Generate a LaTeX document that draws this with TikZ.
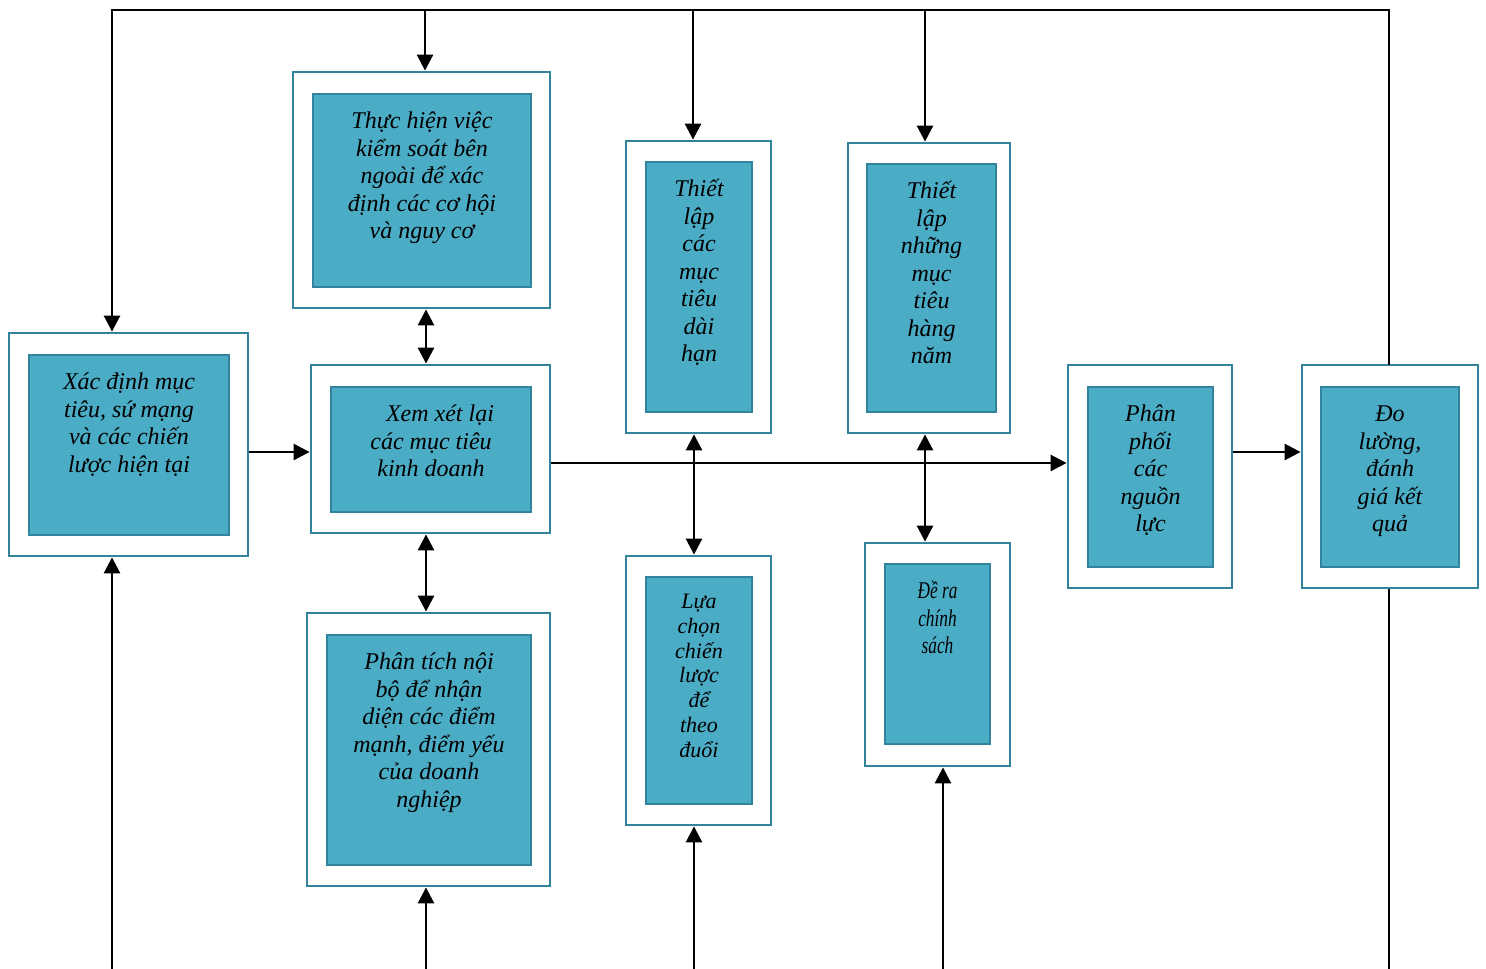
\documentclass[tikz,border=0pt]{standalone}
\usepackage{fontspec}
\usepackage{graphicx}
\setmainfont{Liberation Serif}
\usetikzlibrary{arrows.meta}
\definecolor{boxfill}{HTML}{4BACC6}
\definecolor{boxline}{HTML}{31849B}
\setlength{\tabcolsep}{0pt}
\newcommand\lbltext[1]{\begin{tabular}[t]{c}#1\end{tabular}}
\tikzset{
  outerbox/.style={draw=boxline, line width=2.8pt, fill=white, inner sep=0pt},
  innerbox/.style={draw=boxline, line width=2.3pt, fill=boxfill, inner sep=0pt},
  label/.style={anchor=base, inner sep=0pt,
    font=\fontsize{24}{27.5}\selectfont\itshape},
  smalllabel/.style={anchor=base, inner sep=0pt,
    font=\fontsize{22}{24.7}\selectfont\itshape},
  conn/.style={line width=2.7pt, black},
  arr/.style={conn, -{Triangle[length=16pt,width=16pt]}},
  darr/.style={conn, {Triangle[length=16pt,width=16pt]}-{Triangle[length=16pt,width=16pt]}},
}
\begin{document}
\begin{tikzpicture}[x=1pt, y=-1pt]
\useasboundingbox (0,0) rectangle (1486,969);

% outer boxes
\node[outerbox, minimum width=239pt, minimum height=223pt] (b1) at (128.5,444.5) {};
\node[outerbox, minimum width=257pt, minimum height=236pt] (b2) at (421.5,190) {};
\node[outerbox, minimum width=239pt, minimum height=168pt] (b3) at (430.5,449) {};
\node[outerbox, minimum width=243pt, minimum height=273pt] (b4) at (428.5,749.5) {};
\node[outerbox, minimum width=145pt, minimum height=292pt] (b5) at (698.5,287) {};
\node[outerbox, minimum width=145pt, minimum height=269pt] (b6) at (698.5,690.5) {};
\node[outerbox, minimum width=162pt, minimum height=290pt] (b7) at (929,288) {};
\node[outerbox, minimum width=145pt, minimum height=223pt] (b8) at (937.5,654.5) {};
\node[outerbox, minimum width=164pt, minimum height=223pt] (b9) at (1150,476.5) {};
\node[outerbox, minimum width=176pt, minimum height=223pt] (b10) at (1390,476.5) {};

% inner boxes
\node[innerbox, minimum width=200pt, minimum height=180pt] (i1) at (129,445) {};
\node[innerbox, minimum width=218pt, minimum height=193pt] (i2) at (422,190.5) {};
\node[innerbox, minimum width=200pt, minimum height=125pt] (i3) at (431,449.5) {};
\node[innerbox, minimum width=204pt, minimum height=230pt] (i4) at (429,750) {};
\node[innerbox, minimum width=106pt, minimum height=250pt] (i5) at (699,287) {};
\node[innerbox, minimum width=106pt, minimum height=227pt] (i6) at (699,690.5) {};
\node[innerbox, minimum width=129pt, minimum height=248pt] (i7) at (931.5,288) {};
\node[innerbox, minimum width=105pt, minimum height=180pt] (i8) at (937.5,654) {};
\node[innerbox, minimum width=125pt, minimum height=180pt] (i9) at (1150.5,477) {};
\node[innerbox, minimum width=138pt, minimum height=180pt] (i10) at (1390,477) {};

% texts
\node[label] (t1) at ([yshift=-36pt]i1.north) {\lbltext{Xác định mục\\tiêu, sứ mạng\\và các chiến\\lược hiện tại}};
\node[label] (t2) at ([yshift=-36pt]i2.north) {\lbltext{Thực hiện việc\\kiểm soát bên\\ngoài để xác\\định các cơ hội\\và nguy cơ}};
\node[label] (t3) at ([yshift=-36pt]i3.north) {\lbltext{\hspace*{18pt}Xem xét lại\\các mục tiêu\\kinh doanh}};
\node[label] (t4) at ([yshift=-36pt]i4.north) {\lbltext{Phân tích nội\\bộ để nhận\\diện các điểm\\mạnh, điểm yếu\\của doanh\\nghiệp}};
\node[label] (t5) at ([yshift=-36pt]i5.north) {\lbltext{Thiết\\lập\\các\\mục\\tiêu\\dài\\hạn}};
\node[smalllabel] (t6) at ([yshift=-33pt]i6.north) {\lbltext{Lựa\\chọn\\chiến\\lược\\để\\theo\\đuổi}};
\node[label] (t7) at ([yshift=-36pt]i7.north) {\lbltext{Thiết\\lập\\những\\mục\\tiêu\\hàng\\năm}};
\node[label] (t8) at ([yshift=-36pt]i8.north) {\lbltext{\scalebox{0.72}[1]{Đề ra}\\\scalebox{0.72}[1]{chính}\\\scalebox{0.72}[1]{sách}}};
\node[label] (t9) at ([yshift=-36pt]i9.north) {\lbltext{Phân\\phối\\các\\nguồn\\lực}};
\node[label] (t10) at ([yshift=-36pt]i10.north) {\lbltext{Đo\\lường,\\đánh\\giá kết\\quả}};

% frame coordinates
\coordinate (tl) at (112,10);
\coordinate (tr) at (1389,10);
\coordinate (bot1) at (112,969);
\coordinate (bot2) at (426,969);
\coordinate (bot3) at (694,969);
\coordinate (bot4) at (943,969);
\coordinate (bot5) at (1389,969);

% top feedback line
\draw[conn, line cap=rect] (b10.north -| tr) -- (tr) -- (tl) -- ([yshift=-1pt]tl);
\draw[arr] (tl) -- (b1.north -| tl);
\draw[arr] (425,10) -- (b2.north -| 425,0);
\draw[arr] (693,10) -- (b5.north -| 693,0);
\draw[arr] (925,10) -- (b7.north -| 925,0);

% bottom lines
\draw[arr] (bot1) -- (b1.south -| bot1);
\draw[arr] (bot2) -- (b4.south -| bot2);
\draw[arr] (bot3) -- (b6.south -| bot3);
\draw[arr] (bot4) -- (b8.south -| bot4);
\draw[conn] (b10.south -| bot5) -- (bot5);

% main flow
\draw[arr] (b1.east |- 0,452) -- (b3.west |- 0,452);
\draw[arr] (b3.east |- 0,463) -- (b9.west |- 0,463);
\draw[arr] (b9.east |- 0,452) -- (b10.west |- 0,452);

% double arrows
\draw[darr] (b2.south -| 426,0) -- (b3.north -| 426,0);
\draw[darr] (b3.south -| 426,0) -- (b4.north -| 426,0);
\draw[darr] (b5.south -| 694,0) -- (b6.north -| 694,0);
\draw[darr] (b7.south -| 925,0) -- (b8.north -| 925,0);
\end{tikzpicture}
\end{document}
